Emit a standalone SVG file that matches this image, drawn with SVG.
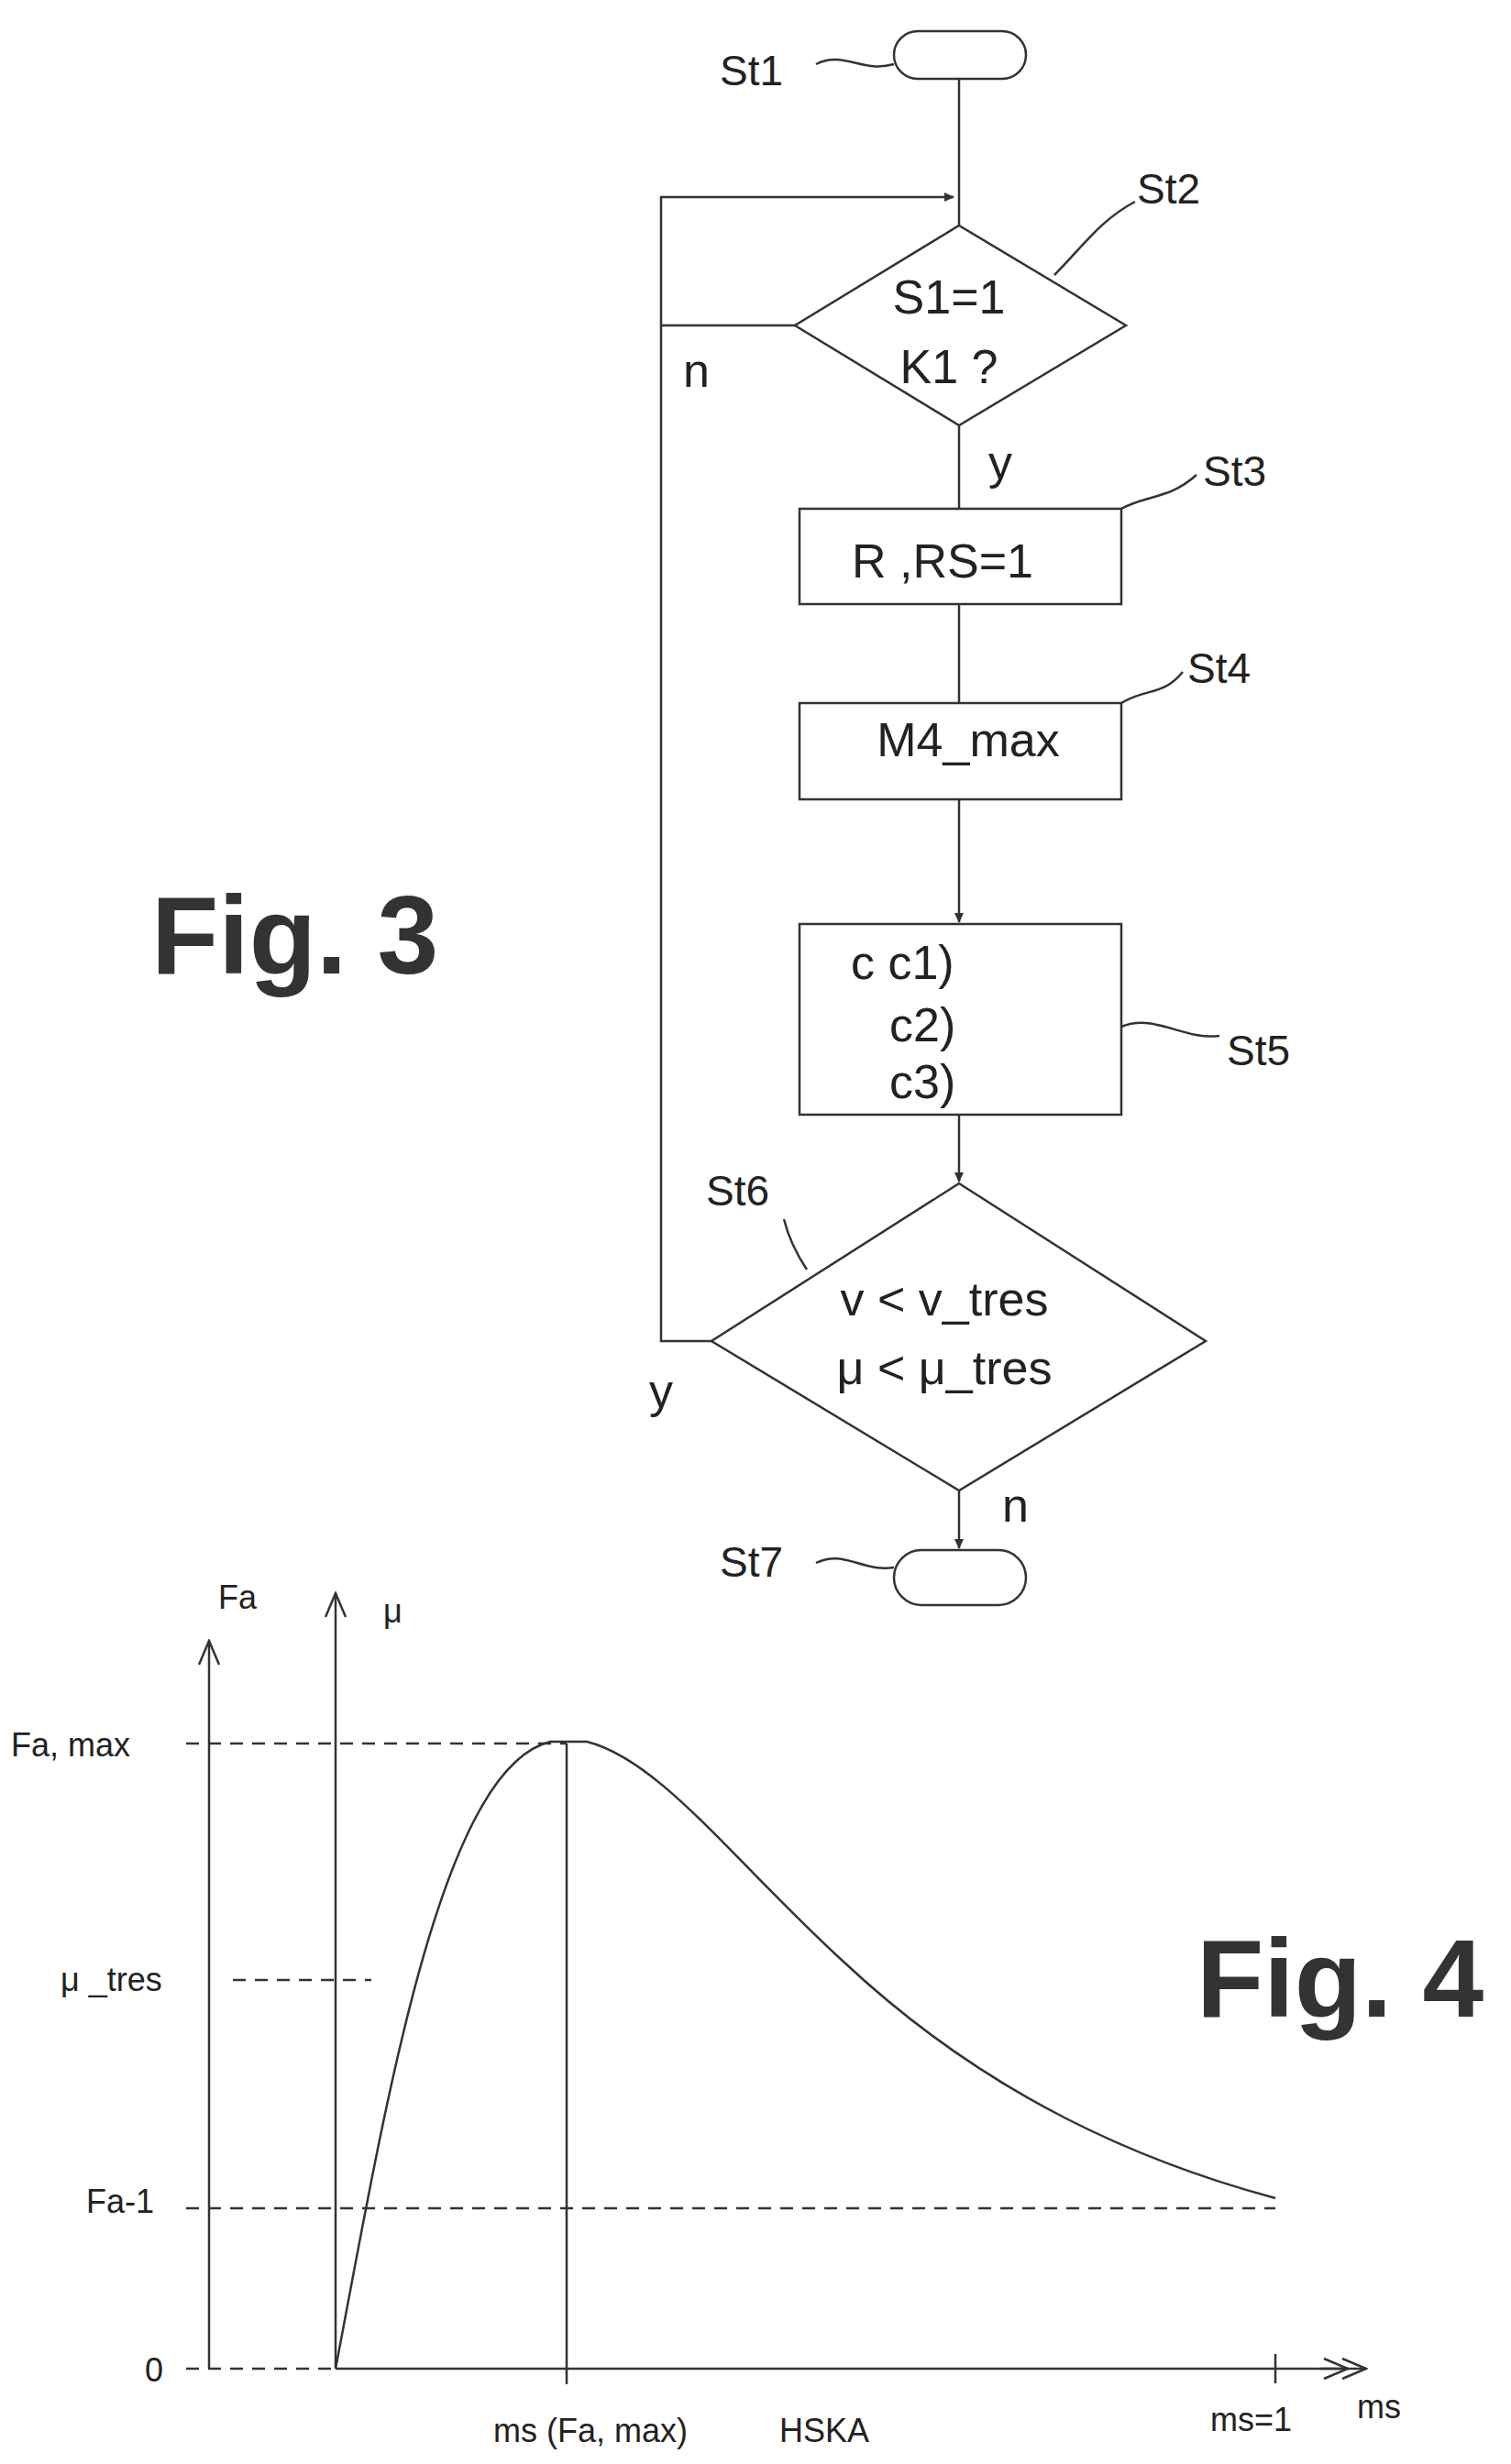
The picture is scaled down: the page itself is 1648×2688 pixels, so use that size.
<svg xmlns="http://www.w3.org/2000/svg" width="1648" height="2688" viewBox="0 0 1648 2688">
<style>
.s{fill:none;stroke:#333;stroke-width:2.5}
.t{font-family:"Liberation Sans",Arial,sans-serif;font-size:52px;fill:#222}
.l{font-family:"Liberation Sans",Arial,sans-serif;font-size:46px;fill:#222}
.g{font-family:"Liberation Sans",Arial,sans-serif;font-size:36px;fill:#222}
.f{font-family:"Liberation Sans",Arial,sans-serif;font-size:120px;font-weight:bold;fill:#333}
.d{fill:none;stroke:#333;stroke-width:2.5;stroke-dasharray:14 10}
</style>
<defs>
<marker id="a" markerWidth="12" markerHeight="12" refX="10" refY="6" orient="auto" markerUnits="userSpaceOnUse" viewBox="0 0 12 12"><path d="M0,1 L11,6 L0,11 z" fill="#333"/></marker>
<marker id="o" markerWidth="30" markerHeight="30" refX="28" refY="15" orient="auto" markerUnits="userSpaceOnUse" viewBox="0 0 30 30"><path d="M2,4 L28,15 L2,26" fill="none" stroke="#333" stroke-width="2.5"/></marker>
</defs>
<text class="f" x="165" y="1062">Fig. 3</text>
<g id="connectors">
<path class="s" d="M1046,86 V246"/>
<path class="s" d="M867,355 H721 V215 H1040" marker-end="url(#a)"/>
<path class="s" d="M1046,464 V555"/>
<path class="s" d="M1046,659 V767"/>
<path class="s" d="M1046,872 V1006" marker-end="url(#a)"/>
<path class="s" d="M1046,1216 V1289" marker-end="url(#a)"/>
<path class="s" d="M776,1463 H721 V355"/>
<path class="s" d="M1046,1626 V1689" marker-end="url(#a)"/>
</g>
<g id="St1"><rect class="s" x="975" y="34" width="144" height="52" rx="26"/><text class="l" x="785" y="93">St1</text><path class="s" d="M890,70 C920,55 940,80 975,70"/></g>
<g id="St2"><path class="s" d="M1046,246 L1228,355 L1046,464 L867,355 Z"/><text class="t" x="1035" y="342" text-anchor="middle">S1=1</text><text class="t" x="1035" y="418" text-anchor="middle">K1 ?</text><text class="t" x="745" y="422">n</text><text class="t" x="1078" y="522">y</text><text class="l" x="1240" y="222">St2</text><path class="s" d="M1150,300 C1180,270 1200,240 1238,220"/></g>
<g id="St3"><rect class="s" x="872" y="555" width="351" height="104"/><text class="t" x="1028" y="630" text-anchor="middle">R ,RS=1</text><text class="l" x="1312" y="530">St3</text><path class="s" d="M1223,555 C1250,540 1275,545 1305,518"/></g>
<g id="St4"><rect class="s" x="872" y="767" width="351" height="105"/><text class="t" x="1056" y="825" text-anchor="middle">M4_max</text><text class="l" x="1295" y="745">St4</text><path class="s" d="M1223,767 C1250,750 1268,760 1290,733"/></g>
<g id="St5"><rect class="s" x="872" y="1008" width="351" height="208"/><text class="t" x="928" y="1068">c c1)</text><text class="t" x="970" y="1136">c2)</text><text class="t" x="970" y="1198">c3)</text><text class="l" x="1338" y="1162">St5</text><path class="s" d="M1223,1120 C1260,1105 1290,1135 1330,1130"/></g>
<g id="St6"><path class="s" d="M1046,1291 L1315,1463 L1046,1626 L776,1463 Z"/><text class="t" x="1030" y="1435" text-anchor="middle">v &lt; v_tres</text><text class="t" x="1030" y="1510" text-anchor="middle">μ &lt; μ_tres</text><text class="l" x="770" y="1315">St6</text><text class="t" x="708" y="1535">y</text><text class="t" x="1093" y="1660">n</text><path class="s" d="M855,1330 C860,1350 870,1370 880,1385"/></g>
<g id="St7"><rect class="s" x="975" y="1691" width="144" height="60" rx="30"/><text class="l" x="785" y="1720">St7</text><path class="s" d="M890,1705 C920,1690 940,1715 975,1710"/></g>
<text class="f" x="1305" y="2200">Fig. 4</text>
<g id="fig4">
<path class="s" d="M228,2584 V1790" marker-end="url(#o)"/>
<path class="s" d="M366,2584 V1738" stroke-width="4" marker-end="url(#o)"/>
<path class="s" d="M366,2584 H1470" stroke-width="4" marker-end="url(#o)"/>
<path class="s" d="M1440,2584 H1490" marker-end="url(#o)"/>
<path class="d" d="M203,2584 H366"/>
<path class="d" d="M203,1902 H618"/>
<path class="d" d="M254,2160 H405"/>
<path class="d" d="M203,2409 H1391"/>
<path class="s" d="M618,1902 V2601"/>
<path class="s" d="M1391,2568 V2600"/>
<path class="s" d="M366,2584 C420,2300 480,1930 600,1900 L640,1900 C720,1920 800,2030 920,2140 C1080,2290 1250,2360 1391,2398"/>
<text class="g" x="238" y="1755">Fa</text>
<text class="g" x="418" y="1770">μ</text>
<text class="g" x="158" y="2598">0</text>
<text class="g" x="12" y="1916">Fa, max</text>
<text class="g" x="66" y="2172">μ _tres</text>
<text class="g" x="94" y="2414">Fa-1</text>
<text class="g" x="538" y="2664">ms (Fa, max)</text>
<text class="g" x="850" y="2664">HSKA</text>
<text class="g" x="1320" y="2652">ms=1</text>
<text class="g" x="1480" y="2638">ms</text>
</g>
</svg>
